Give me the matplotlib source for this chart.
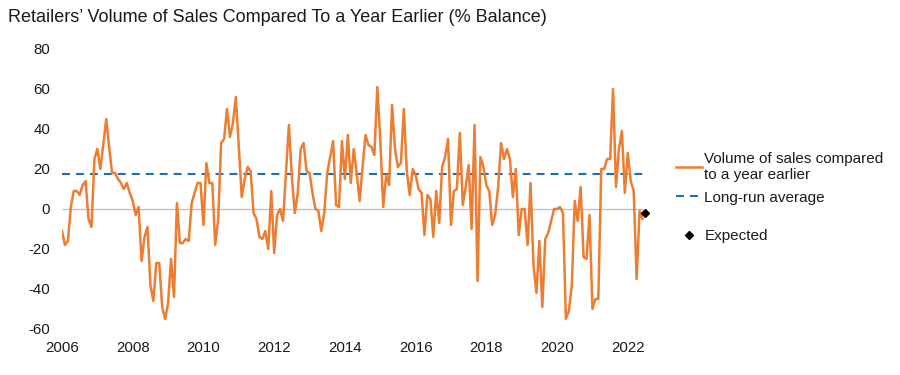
import numpy as np
import matplotlib
matplotlib.use("Agg")
import matplotlib.pyplot as plt
from matplotlib.lines import Line2D

plt.rcParams['font.family'] = ['Liberation Sans', 'DejaVu Sans']
plt.rcParams['axes.unicode_minus'] = False

# Monthly balance, Jan 2006 - Jun 2022
sales = [
    -11, -18, -16, 1, 9, 9, 7, 12, 14, -5, -9, 25,
    30, 20, 32, 45, 31, 18, 18, 15, 13, 10, 13, 8,
    4, -3, 1, -26, -14, -9, -38, -46, -27, -27, -49, -55,
    -47, -25, -44, 3, -17, -17, -15, -16, 3, 8, 13, 13,
    -8, 23, 13, 13, -18, -5, 33, 35, 50, 36, 43, 56,
    31, 6, 15, 21, 19, -2, -5, -14, -15, -11, -20, 9,
    -22, -3, 0, -6, 18, 42, 16, -2, 8, 30, 33, 19,
    18, 8, 0, -1, -11, -2, 18, 26, 34, 2, 1, 34,
    15, 37, 13, 30, 18, 4, 21, 37, 32, 31, 27, 61,
    35, 1, 17, 12, 52, 30, 21, 23, 50, 19, 7, 20,
    17, 10, 8, -13, 7, 5, -14, 9, -7, 21, 26, 35,
    -8, 9, 10, 38, 2, 11, 22, -10, 42, -36, 26, 21,
    12, 9, -8, -3, 11, 33, 25, 30, 25, 6, 20, -13,
    0, 0, -18, 13, -28, -42, -16, -49, -15, -12, -6, 0,
    0, 1, -2, -55, -51, -38, 4, -6, 11, -24, -25, -3,
    -50, -45, -45, 20, 20, 25, 25, 60, 11, 30, 39, 8,
    28, 14, 9, -35, -1, -5,
]
long_run_avg = 17.5
expected = -2
start_year = 2006
year_ticks = list(range(2006, 2023, 2))

x = start_year + np.arange(len(sales)) / 12
x_exp = start_year + len(sales) / 12

orange = '#ED7D31'
blue = '#1F6FA8'
text_col = '#1A1A1A'

fig = plt.figure(figsize=(9, 3.75), dpi=100)
ax = fig.add_axes([62 / 900, 46 / 375, 587 / 900, 280 / 375])

ax.hlines(0, x[0], x[-1], color='#BFBFBF', lw=0.9, zorder=1)
ax.hlines(long_run_avg, x[0], x[-1], color=blue, lw=1.5,
          linestyles=(0, (3.8, 2.9)), zorder=2)
ax.plot(x, sales, color=orange, lw=1.8, zorder=3)
ax.plot([x_exp], [expected], marker='D', color='black', ms=4.5,
        ls='none', zorder=4)

ax.set_xlim(start_year, start_year + 16.6)
ax.set_ylim(-60, 80)
ax.set_xticks(year_ticks)
ax.set_xticklabels([str(y) for y in year_ticks])
ax.set_yticks(range(-60, 81, 20))
ax.tick_params(length=0, labelsize=10.8, colors=text_col)
ax.tick_params(axis='x', pad=9)
ax.tick_params(axis='y', pad=8.5)
for s in ax.spines.values():
    s.set_visible(False)

fig.text(8 / 900, 1 - 18 / 375,
         'Retailers\u2019 Volume of Sales Compared To a Year Earlier (% Balance)',
         fontsize=13, color=text_col, va='center', ha='left')

h_sales = Line2D([], [], color=orange, lw=1.8)
h_avg = Line2D([], [], color=blue, lw=1.5, ls=(0, (3.8, 2.9)))
h_exp = Line2D([], [], color='black', marker='D', ms=4.5, ls='none')

leg_kw = dict(frameon=False, fontsize=11, handlelength=1.7,
              handletextpad=0.15, borderaxespad=0, labelcolor=text_col)
fig.legend([h_sales, h_avg],
           ['Volume of sales compared\nto a year earlier', 'Long-run average'],
           loc='upper left', bbox_to_anchor=(670 / 900, 1 - 146 / 375),
           labelspacing=0.55, **leg_kw)
fig.legend([h_exp], ['Expected'], loc='center left',
           bbox_to_anchor=(670 / 900, 1 - 236 / 375), **leg_kw)

fig.savefig('out.png', dpi=100)
